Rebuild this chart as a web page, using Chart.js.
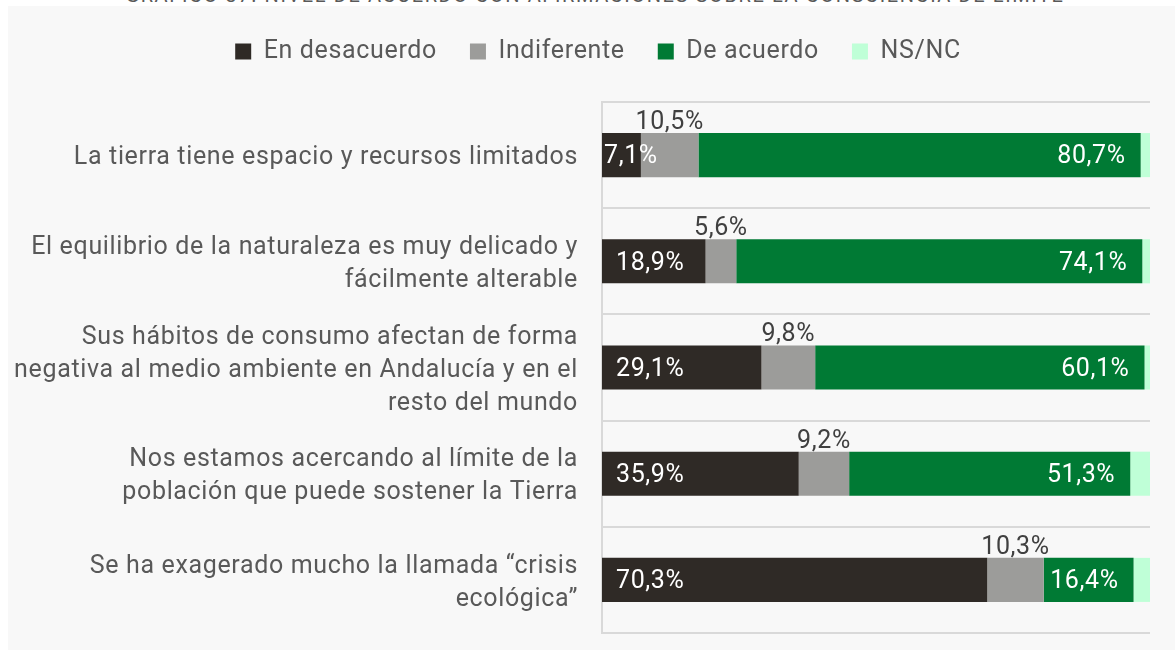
<!DOCTYPE html>
<html>
<head>
<meta charset="utf-8">
<script src="https://cdn.jsdelivr.net/npm/chart.js@4/dist/chart.umd.min.js"></script>
<style>
  body { margin: 0; background: #ffffff; width: 1175px; height: 650px; overflow: hidden; position: relative; font-family: Roboto, sans-serif; }
  #title { position: absolute; left: 0; width: 1190px; top: -15px; text-align: center; font-size: 20px; line-height: 20px; color: #595959; letter-spacing: 1.6px; }
  #panel { position: absolute; left: 8px; top: 6px; width: 1167px; height: 644px; background: #f8f8f8; }
</style>
</head>
<body>
<div id="title">GRÁFICO 37. NIVEL DE ACUERDO CON AFIRMACIONES SOBRE LA CONSCIENCIA DE LÍMITE</div>
<div id="panel"><canvas id="chart"></canvas></div>
<script>
const categories = [
    ["La tierra tiene espacio y recursos limitados"],
    ["El equilibrio de la naturaleza es muy delicado y", "fácilmente alterable"],
    ["Sus hábitos de consumo afectan de forma", "negativa al medio ambiente en Andalucía y en el", "resto del mundo"],
    ["Nos estamos acercando al límite de la", "población que puede sostener la Tierra"],
    ["Se ha exagerado mucho la llamada “crisis", "ecológica”"]
];
const enDesacuerdo = [7.1, 18.9, 29.1, 35.9, 70.3];
const indiferente = [10.5, 5.6, 9.8, 9.2, 10.3];
const deAcuerdo = [80.7, 74.1, 60.1, 51.3, 16.4];
const nsnc = [1.7, 1.4, 1.0, 3.6, 3.0];

function fmt(v) {
    return v.toFixed(1).replace(".", ",") + "%";
}

// the original font is a wide DIN, so spread the letters a bit
const spacing = {
    id: "spacing",
    beforeLayout(chart) { chart.ctx.letterSpacing = "0.65px"; },
    beforeDraw(chart) { chart.ctx.letterSpacing = "0.65px"; }
};

// extra space under the legend, and legend a bit to the right
const legendGap = {
    id: "legendGap",
    beforeInit(chart) {
        const fit = chart.legend.fit;
        chart.legend.fit = function () {
            fit.call(this);
            this.height += 28;
        };
    },
    afterLayout(chart) {
        chart.legend.left += 19;
        chart.legend.right += 19;
    }
};

// value labels like the original (inside base / above / inside end)
const valueLabels = {
    id: "valueLabels",
    afterDatasetsDraw(chart) {
        const ctx = chart.ctx;
        ctx.save();
        ctx.letterSpacing = "0.6px";
        ctx.font = "25px Roboto";
        chart.data.datasets.forEach((ds, di) => {
            if (di > 2) return;
            const meta = chart.getDatasetMeta(di);
            meta.data.forEach((bar, i) => {
                const txt = fmt(ds.data[i]);
                const w = ctx.measureText(txt).width;
                if (di === 0) {
                    ctx.fillStyle = "#ffffff";
                    ctx.textAlign = "left";
                    ctx.textBaseline = "middle";
                    const x = (bar.x - bar.base) > w + 28 ? bar.base + 14 : bar.base + 2;
                    ctx.fillText(txt, x, bar.y + 2);
                } else if (di === 1) {
                    ctx.fillStyle = "#404040";
                    ctx.textAlign = "center";
                    ctx.textBaseline = "alphabetic";
                    ctx.fillText(txt, (bar.x + bar.base) / 2, bar.y - bar.height / 2 - 4);
                } else {
                    ctx.fillStyle = "#ffffff";
                    ctx.textAlign = "right";
                    ctx.textBaseline = "middle";
                    ctx.fillText(txt, bar.x - 15, bar.y + 2);
                }
            });
        });
        ctx.restore();
    }
};

new Chart(
    document.getElementById("chart"), {
        type: "bar",
        data: {
            labels: categories,
            datasets: [
                { label: "En desacuerdo", data: enDesacuerdo, backgroundColor: "#2f2a26" },
                { label: "Indiferente", data: indiferente, backgroundColor: "#9c9c9a" },
                { label: "De acuerdo", data: deAcuerdo, backgroundColor: "#007a34" },
                { label: "NS/NC", data: nsnc, backgroundColor: "#bfffd7" }
            ]
        },
        options: {
            indexAxis: "y",
            responsive: true,
            maintainAspectRatio: false,
            animation: false,
            layout: { padding: { top: 0, right: 25, bottom: 17, left: 0 } },
            datasets: {
                bar: { barPercentage: 0.415, categoryPercentage: 1, borderWidth: 0 }
            },
            scales: {
                x: { stacked: true, min: 0, max: 100, display: false },
                y: {
                    stacked: true,
                    grid: { color: "#d9d9d9", lineWidth: 2, drawTicks: false, offset: true },
                    border: { color: "#d9d9d9", width: 2 },
                    ticks: {
                        color: "#595959",
                        padding: 24,
                        labelOffset: 3,
                        font: { family: "Roboto", size: 25, lineHeight: 1.32 }
                    },
                    afterFit(scale) {
                        scale.width = 594;
                        scale.paddingTop = 0;
                        scale.paddingBottom = 0;
                    }
                }
            },
            plugins: {
                tooltip: { enabled: false },
                legend: {
                    position: "top",
                    labels: {
                        color: "#595959",
                        boxWidth: 16,
                        boxHeight: 16,
                        padding: 33,
                        font: { family: "Roboto", size: 25 }
                    }
                }
            }
        },
        plugins: [spacing, legendGap, valueLabels]
    }
)
</script>
</body>
</html>
